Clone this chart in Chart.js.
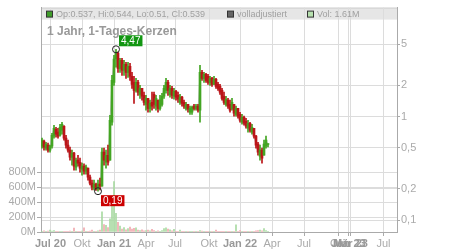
<!DOCTYPE html>
<html>
<head>
<meta charset="utf-8">
<script src="https://cdn.jsdelivr.net/npm/chart.js@4.4.1/dist/chart.umd.min.js"></script>
<style>
  body { margin: 0; background: #fff; }
</style>
</head>
<body>
<canvas id="kerzen" width="450" height="250"></canvas>
<script>
// Kerzen in 4-Tages-Gruppen (x = Handelstag-Index)
const step = 4;
const open = [
  0.517, 0.578, 0.495, 0.529, 0.473, 0.517, 0.646, 0.754, 0.706, 0.660,
  0.738, 0.806, 0.618, 0.529, 0.473, 0.405, 0.443, 0.324, 0.379, 0.362,
  0.310, 0.332, 0.297, 0.317, 0.260, 0.227, 0.203, 0.222, 0.199, 0.222,
  0.213, 0.453, 0.362, 0.423, 0.379, 0.881, 2.14, 3.6, 4.1, 2.92,
  3.49, 2.80, 3.19, 2.67, 3.05, 2.45, 2.14, 1.79, 2.14, 1.64,
  1.87, 1.60, 1.31, 1.50, 1.20, 1.37, 1.64, 1.26, 1.44, 1.20,
  1.31, 1.57, 1.79, 2.14, 1.64, 1.87, 1.57, 1.75, 1.60, 1.37,
  1.54, 1.37, 1.20, 1.31, 1.10, 1.10, 1.26, 1.20, 1.26, 1.15,
  2.67, 2.34, 2.56, 2.45, 2.14, 2.34, 2.05, 2.29, 2.05, 1.96,
  1.79, 1.57, 1.31, 1.44, 1.31, 1.20, 1.31, 1.05, 1.20, 1.05,
  0.881, 0.985, 0.90, 0.771, 0.862, 0.706, 0.771, 0.646, 0.541, 0.414,
  0.473, 0.423, 0.517, 0.537
];
const close = [
  0.591, 0.506, 0.541, 0.473, 0.517, 0.660, 0.771, 0.675, 0.646, 0.789,
  0.843, 0.618, 0.529, 0.473, 0.405, 0.443, 0.332, 0.379, 0.355, 0.317,
  0.332, 0.297, 0.324, 0.260, 0.227, 0.208, 0.222, 0.199, 0.222, 0.213,
  0.453, 0.379, 0.423, 0.362, 0.921, 2.24, 3.6, 4.1, 2.92, 3.49,
  2.80, 3.19, 2.67, 3.05, 2.45, 2.05, 1.79, 2.14, 1.72, 1.87,
  1.57, 1.37, 1.50, 1.20, 1.34, 1.26, 1.31, 1.50, 1.20, 1.44,
  1.57, 1.87, 2.14, 1.79, 1.87, 1.60, 1.75, 1.54, 1.47, 1.54,
  1.34, 1.26, 1.31, 1.18, 1.20, 1.23, 1.20, 1.26, 1.15, 2.67,
  2.34, 2.56, 2.24, 2.14, 2.34, 2.05, 2.29, 1.96, 1.87, 1.72,
  1.50, 1.37, 1.47, 1.26, 1.15, 1.37, 1.08, 1.20, 1.01, 0.921,
  0.985, 0.862, 0.806, 0.862, 0.738, 0.789, 0.646, 0.529, 0.453, 0.473,
  0.396, 0.541, 0.591, 0.539
];
const high = [
  0.618, 0.591, 0.565, 0.553, 0.529, 0.690, 0.824, 0.789, 0.771, 0.843,
  0.881, 0.82, 0.660, 0.591, 0.506, 0.473, 0.45, 0.396, 0.423, 0.396,
  0.355, 0.35, 0.339, 0.317, 0.272, 0.243, 0.243, 0.227, 0.243, 0.254,
  0.495, 0.495, 0.473, 0.529, 1.03, 2.50, 3.90, 4.47, 4.2, 3.65,
  3.65, 3.49, 3.34, 3.34, 3.27, 2.67, 2.45, 2.34, 2.24, 2.00,
  1.87, 1.72, 1.60, 1.50, 1.44, 1.72, 1.72, 1.60, 1.44, 1.60,
  1.68, 2.00, 2.34, 2.24, 2.00, 1.96, 1.87, 1.79, 1.72, 1.64,
  1.57, 1.44, 1.37, 1.31, 1.26, 1.26, 1.31, 1.31, 1.31, 3.12,
  2.80, 2.67, 2.62, 2.56, 2.45, 2.39, 2.45, 2.34, 2.14, 2.05,
  1.87, 1.72, 1.57, 1.50, 1.44, 1.50, 1.31, 1.26, 1.20, 1.10,
  1.05, 1.01, 0.963, 0.921, 0.881, 0.843, 0.771, 0.660, 0.565, 0.529,
  0.495, 0.591, 0.646, 0.544
];
const low = [
  0.495, 0.473, 0.473, 0.453, 0.453, 0.495, 0.618, 0.632, 0.618, 0.646,
  0.675, 0.591, 0.495, 0.453, 0.379, 0.339, 0.303, 0.303, 0.332, 0.290,
  0.272, 0.278, 0.278, 0.243, 0.218, 0.195, 0.195, 0.193, 0.190, 0.195,
  0.213, 0.339, 0.317, 0.339, 0.379, 0.824, 2.00, 3.0, 2.67, 2.67,
  2.50, 2.50, 2.34, 2.39, 2.24, 1.87, 1.34, 1.72, 1.60, 1.50,
  1.44, 1.29, 1.15, 1.10, 1.10, 1.15, 1.20, 1.15, 1.10, 1.15,
  1.26, 1.50, 1.68, 1.60, 1.54, 1.50, 1.47, 1.44, 1.37, 1.31,
  1.26, 1.20, 1.15, 1.10, 1.05, 1.05, 1.15, 1.15, 1.10, 0.881,
  2.24, 2.14, 2.14, 2.05, 2.00, 1.96, 2.05, 1.87, 1.79, 1.64,
  1.44, 1.31, 1.26, 1.20, 1.10, 1.15, 1.01, 1.01, 0.963, 0.881,
  0.843, 0.824, 0.771, 0.706, 0.706, 0.675, 0.618, 0.495, 0.423, 0.379,
  0.355, 0.423, 0.495, 0.51
];
// Volumen in Mio.
const vol = [
  10, 15, 8, 12, 27, 12, 20, 8, 6, 10,
  5, 8, 6, 10, 12, 8, 53, 8, 10, 6,
  12, 55, 10, 8, 12, 25, 10, 8, 15, 25,
  270, 100, 90, 60, 175, 470, 675, 250, 130, 80,
  40, 60, 30, 45, 65, 40, 50, 55, 25, 20,
  30, 15, 20, 25, 15, 35, 20, 10, 15, 10,
  20, 45, 55, 40, 30, 15, 35, 10, 8, 25,
  10, 8, 6, 10, 8, 6, 5, 8, 10, 20,
  12, 8, 6, 10, 8, 6, 8, 25, 10, 6,
  8, 10, 6, 8, 5, 6, 10, 95, 10, 20,
  8, 6, 8, 10, 8, 6, 10, 15, 20, 25,
  15, 45, 20, 1.61
];

const tickPos = [19, 82, 146, 210, 268, 336, 398, 462, 526, 595, 615, 619, 685];
const tickLabels = ['Jul 20', 'Okt', 'Jan 21', 'Apr', 'Jul', 'Okt', 'Jan 22', 'Apr', 'Jul', 'Okt', 'Jan 23', 'Mär 23', 'Jul'];
const priceTicks = [0.1, 0.2, 0.5, 1, 2, 5];
const volTicks = [0, 200, 400, 600, 800];

const xs = open.map((_, i) => 2 + step * i);
const up = open.map((o, i) => close[i] >= o);
const candleColor = up.map(u => u ? '#43a523' : '#bb1418');
const volColor = up.map(u => u ? '#a9daa2' : '#f1a9ae');
const isYear = i => (tickLabels[i] || '').indexOf(' ') > 0;
const komma = v => String(v).replace('.', ',');

Chart.defaults.font.family = '"Liberation Sans", Arial, sans-serif';

const extras = {
    id: 'extras',
    beforeDraw(chart) {
        const { ctx, chartArea: a } = chart;
        ctx.save();
        ctx.fillStyle = '#e6e6e6';
        ctx.fillRect(a.left, a.top, a.right - a.left, 12);
        ctx.strokeStyle = '#cfcfcf';
        ctx.lineWidth = 1;
        ctx.beginPath();
        ctx.moveTo(a.left, a.top + 0.5);
        ctx.lineTo(a.right, a.top + 0.5);
        ctx.stroke();
        ctx.restore();
    },
    afterDatasetsDraw(chart) {
        const { ctx, chartArea: a, scales } = chart;
        const n = close.length - 1;
        ctx.save();
        // Legende im Kopfband
        const items = [
            [5, '#3f9d2a', 'Op:' + open[n] + ', Hi:' + high[n] + ', Lo:' + low[n] + ', Cl:' + close[n]],
            [186, '#666666', 'volladjustiert'],
            [266, '#b6e0ae', 'Vol: ' + vol[n] + 'M']
        ];
        ctx.font = '9px "Liberation Sans", Arial, sans-serif';
        ctx.textBaseline = 'middle';
        items.forEach(([dx, col, txt]) => {
            ctx.fillStyle = col;
            ctx.fillRect(a.left + dx + 0.5, a.top + 3.5, 6, 6);
            ctx.strokeStyle = '#333';
            ctx.strokeRect(a.left + dx + 0.5, a.top + 3.5, 6, 6);
            ctx.fillStyle = '#a0a0a0';
            ctx.fillText(txt, a.left + dx + 10, a.top + 7);
        });

        // Hoch / Tief markieren
        const iMax = high.indexOf(Math.max(...high));
        const iMin = low.indexOf(Math.min(...low));
        const marks = [
            [iMax, high[iMax], '#129612', -14],
            [iMin, low[iMin], '#cc0000', 4]
        ];
        ctx.font = '10px "Liberation Sans", Arial, sans-serif';
        marks.forEach(([i, v, col, dy]) => {
            const px = scales.x.getPixelForValue(xs[i]);
            const py = scales.y.getPixelForValue(v);
            ctx.strokeStyle = '#222';
            ctx.lineWidth = 1;
            ctx.beginPath();
            ctx.arc(px, py, 3.5, 0, Math.PI * 2);
            ctx.stroke();
            const txt = komma(v);
            const w = ctx.measureText(txt).width + 4;
            ctx.fillStyle = col;
            ctx.fillRect(px + 3, py + dy, w, 11);
            ctx.fillStyle = '#fff';
            ctx.textBaseline = 'middle';
            ctx.fillText(txt, px + 5, py + dy + 6);
        });
        ctx.restore();
    },
    afterDraw(chart) {
        const { ctx, chartArea: a } = chart;
        ctx.save();
        ctx.font = 'bold 12px "Liberation Sans", Arial, sans-serif';
        ctx.fillStyle = '#999';
        ctx.textBaseline = 'alphabetic';
        ctx.fillText('1 Jahr, 1-Tages-Kerzen', a.left + 6, a.top + 27.5);
        ctx.restore();
    }
};

new Chart(document.getElementById('kerzen'), {
    type: 'bar',
    data: {
        datasets: [{
            label: 'Körper',
            data: xs.map((x, i) => ({ x: x, y: [open[i], close[i]] })),
            backgroundColor: candleColor,
            barThickness: 2,
            minBarLength: 1,
            grouped: false,
            yAxisID: 'y',
            order: 1
        }, {
            label: 'Docht',
            data: xs.map((x, i) => ({ x: x, y: [low[i], high[i]] })),
            backgroundColor: candleColor,
            barThickness: 1,
            grouped: false,
            yAxisID: 'y',
            order: 2
        }, {
            type: 'line',
            label: 'Schluss',
            data: xs.map((x, i) => ({ x: x, y: close[i] })),
            borderColor: '#bdbdbd',
            borderWidth: 1,
            pointRadius: 0,
            yAxisID: 'y',
            order: 3
        }, {
            label: 'Volumen',
            data: xs.map((x, i) => ({ x: x, y: vol[i] })),
            backgroundColor: volColor,
            barThickness: 1,
            grouped: false,
            yAxisID: 'yv',
            order: 4
        }]
    },
    options: {
        responsive: false,
        animation: false,
        layout: { padding: { top: 7 } },
        plugins: {
            legend: { display: false },
            tooltip: { enabled: false }
        },
        scales: {
            x: {
                type: 'linear',
                min: 0,
                max: 712,
                offset: false,
                afterBuildTicks: s => { s.ticks = tickPos.map(v => ({ value: v })); },
                afterFit: s => { s.height = 18; },
                ticks: {
                    autoSkip: false,
                    maxRotation: 0,
                    padding: 1,
                    callback: (v, i) => tickLabels[i],
                    color: c => isYear(c.index) ? '#999' : '#aaa',
                    font: c => ({ size: 11, weight: isYear(c.index) ? 'bold' : 'normal' })
                },
                grid: { offset: false, color: '#dcdcdc', tickLength: 4, tickColor: '#aaa' },
                border: { color: '#aaa' }
            },
            y: {
                type: 'logarithmic',
                position: 'right',
                min: 0.0766,
                max: 11.3,
                afterBuildTicks: s => { s.ticks = priceTicks.map(v => ({ value: v })); },
                afterFit: s => { s.width = 53; },
                ticks: {
                    callback: v => komma(v),
                    color: '#aaa',
                    font: { size: 11 },
                    padding: 1
                },
                grid: { color: '#dcdcdc', tickLength: 3, tickColor: '#aaa' },
                border: { color: '#aaa' }
            },
            yv: {
                type: 'linear',
                position: 'left',
                min: 0,
                max: 3000,
                afterBuildTicks: s => { s.ticks = volTicks.map(v => ({ value: v })); },
                afterFit: s => { s.width = 41; },
                ticks: {
                    callback: v => v + 'M',
                    color: '#aaa',
                    font: { size: 11 },
                    padding: 1
                },
                grid: { color: '#dcdcdc', tickLength: 4, tickColor: '#aaa' },
                border: { color: '#aaa' }
            }
        }
    },
    plugins: [extras]
});
</script>
</body>
</html>
